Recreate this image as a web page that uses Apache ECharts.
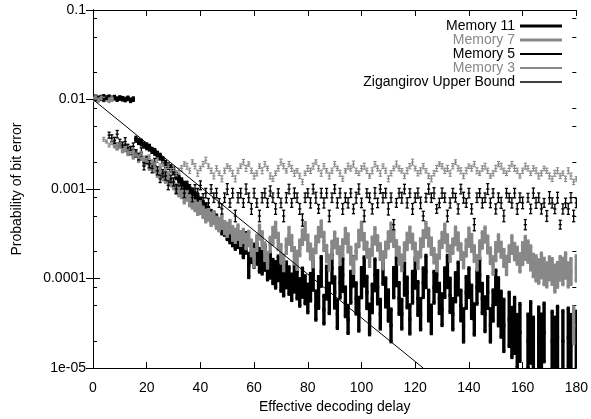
<!DOCTYPE html>
<html>
<head>
<meta charset="utf-8">
<title>Probability of bit error vs effective decoding delay</title>
<script src="https://cdn.jsdelivr.net/npm/echarts@6.0.0/dist/echarts.min.js"></script>
<style>
  html, body { margin: 0; padding: 0; background: #fff; }
  #chart { width: 591px; height: 419px; }
</style>
</head>
<body>
<div id="chart"></div>
<script>
// one value per integer delay, 0..180 (null = no point plotted)
// centre of each error bar (probability of bit error)
const mem11 = [
  0.0104, 0.0106, 0.0103, 0.0105, 0.0107, 0.0104, 0.0106, 0.0103, 0.0105, 0.0101, 0.0104, 0.0102, 0.0100, 0.0103, 0.0098, 0.0101,
  0.0036, 0.0034, 0.0033, 0.0031, 0.0030, 0.0029, 0.0027, 0.0026, 0.0024, 0.0023,
  0.0021, 0.0019, 0.0018, 0.0017, 0.0016, 0.0014, 0.0013, 0.0012, 0.0011, 0.00105,
  0.00095, 0.0009, 0.00082, 0.00078, 0.0007, 0.00065, 0.0006, 0.00055, 0.0005, 0.00048,
  0.00044, 0.0004, 0.00037, 0.00036, 0.00032, 0.0003, 0.00028, 0.00026, 0.00027, 0.00024,
  0.00022, 0.00025, 0.00014, 0.0002, 0.00018, 0.00019, 0.00016, 0.00015, 0.00017, 0.00013,
  0.00014, 0.00012, 0.00011, 0.00013, 0.0001, 0.00009, 0.00011, 0.000095, 0.00008, 0.0001,
  0.000085, 0.00007, 0.00009, 0.000075, 0.00006,
  0.00008, 0.00011, 0.00005, 0.00007, 0.00012, 0.000045, 0.00009, 0.00006, 0.00013, 0.00007,
  0.00004, 0.00009, 0.00011, 0.000055, 0.000035, 0.00008, 0.00012, 0.00006, 0.00004, 0.00009,
  0.00012, 0.00007, 0.000035, 0.00006, 0.00011, 0.00008, 0.00004, 0.00013, 0.00007, 0.00005,
  0.00003, 0.00009, 0.00012, 0.00006, 0.00004, 0.0001, 0.00007, 0.000035, 0.00008, 0.000115,
  0.00006, 0.00004, 0.00009, 0.00012, 0.00005, 0.000035, 0.00008, 0.00011, 0.00006, 0.000045,
  0.00009, 0.00012, 0.000065, 0.00004, 0.00008, 0.0001, 0.00005, 0.00003, 0.00007, 0.00009,
  0.000055, 0.000035, 0.00008, 0.00011, 0.00006, 0.00004, 0.00007, 0.00003, 0.00005, 0.00008,
  0.000055, 0.00004, 0.00003, null, 0.000035, 0.000025, 0.00003, 0.00002, 0.000025, null,
  null, 0.00002, 0.000025, 0.000018, null, 0.000022, 0.00002, 0.000025, null, null,
  0.00002, 0.000018, 0.000022, null, 0.00002, null, 0.000022, 0.000018, null, 0.00002
];
const mem7 = [
  0.0101, 0.0104, 0.0099, 0.0103, 0.0100, 0.0102, 0.0098, 0.0101,
  0.0032, 0.0030, 0.0031, 0.0028, 0.0029, 0.0026, 0.0027, 0.0024, 0.0025, 0.0022,
  0.0023, 0.0020, 0.0021, 0.0018, 0.0019, 0.0017, 0.0015, 0.0016, 0.0014, 0.0013,
  0.0014, 0.0012, 0.0011, 0.0010, 0.00095, 0.0009, 0.0008, 0.00085, 0.00075, 0.0007,
  0.00065, 0.0006, 0.00062, 0.00055, 0.0005, 0.00052, 0.00046, 0.00048, 0.00042, 0.0004,
  0.00043, 0.00037, 0.00035, 0.00038, 0.00032, 0.0003, 0.00033, 0.00028, 0.0003, 0.00026,
  0.00028, 0.00022, 0.00017, 0.00025, 0.00033, 0.00027, 0.0002, 0.00016, 0.00024, 0.0003,
  0.00035, 0.00026, 0.00019, 0.00015, 0.00023, 0.0003, 0.00025, 0.00018, 0.00016, 0.00022,
  0.00029, 0.00034, 0.00025, 0.0002, 0.00017, 0.00024, 0.00031, 0.00036, 0.00026, 0.00019,
  0.00015, 0.00021, 0.00027, 0.00023, 0.00018, 0.00022, 0.0003, 0.00025, 0.00018, 0.00014,
  0.0002, 0.00028, 0.00034, 0.00026, 0.00021, 0.00017, 0.00023, 0.0003, 0.00025, 0.0002,
  0.00016, 0.00021, 0.00027, 0.00033, 0.00028, 0.00022, 0.00018, 0.00015, 0.0002, 0.00026,
  0.00031, 0.00026, 0.0002, 0.00016, 0.00022, 0.00028, 0.00035, 0.00029, 0.00023, 0.00018,
  0.00015, 0.00021, 0.00027, 0.00032, 0.00025, 0.00019, 0.00023, 0.0003, 0.00026, 0.0002,
  0.00016, 0.00022, 0.00029, 0.00025, 0.00019, 0.00015, 0.00021, 0.00027, 0.00031, 0.00024,
  0.00018, 0.00014, 0.0002, 0.00025, 0.00021, 0.00017, 0.00014, 0.00019, 0.00024, 0.0002,
  0.00018, 0.00015, 0.00019, 0.00022, 0.0002, 0.00017, 0.00014, 0.00013, 0.00012, 0.00014,
  0.00012, 0.00011, 0.00013, 0.00012, 0.0001, 0.00011, 0.00013, 0.00012, 0.00014, 0.00011,
  0.00012, 0.00003, 0.00013
];
const mem5 = [
  0.0103, 0.0100, 0.0105, 0.0102, 0.0099, 0.0104,
  0.0040, 0.0037, 0.0035, 0.0041, 0.0033, 0.0031, 0.0034, 0.0029, 0.0027, 0.0030,
  0.0025, 0.0023, 0.0026, 0.0018, 0.0021, 0.0019, 0.0017, 0.0020, 0.0016, 0.0013,
  0.0015, 0.0014, 0.0011, 0.0013, 0.0012, 0.0010, 0.0012, 0.0011, 0.0009, 0.0011,
  0.0010, 0.0008, 0.0010, 0.0009, 0.0011, 0.0008, 0.0009, 0.0007, 0.0010, 0.0008,
  0.0009, 0.0007, 0.0006, 0.0008, 0.0010, 0.0007, 0.0009, 0.0005, 0.0008, 0.0009,
  0.0007, 0.0010, 0.0008, 0.0006, 0.0009, 0.0007, 0.0005, 0.0008, 0.0009, 0.0007,
  0.00095, 0.0008, 0.0006, 0.0009, 0.0007, 0.0005, 0.0008, 0.0010, 0.0007, 0.0009,
  0.0008, 0.0006, 0.00045, 0.0008, 0.0009, 0.0007, 0.0010, 0.0008, 0.0006, 0.0009,
  0.0007, 0.0009, 0.0005, 0.0008, 0.0010, 0.0007, 0.0009, 0.0006, 0.0008, 0.0007,
  0.0009, 0.0006, 0.0008, 0.0010, 0.0007, 0.0005, 0.0009, 0.0008, 0.0006, 0.0009,
  0.0007, 0.0010, 0.0008, 0.0009, 0.0006, 0.0008, 0.0004, 0.0007, 0.0009, 0.0008,
  0.0010, 0.0007, 0.0009, 0.0006, 0.0008, 0.0009, 0.0007, 0.0005, 0.0008, 0.0010,
  0.0008, 0.0009, 0.0006, 0.0007, 0.0009, 0.0008, 0.0005, 0.0007, 0.0009, 0.0008,
  0.0006, 0.0010, 0.0008, 0.0007, 0.0009, 0.0006, 0.0004, 0.0008, 0.0009, 0.0007,
  0.0008, 0.0010, 0.0007, 0.0009, 0.0006, 0.0008, 0.0007, 0.0005, 0.0009, 0.0008,
  0.0007, 0.0009, 0.0006, 0.0008, 0.0007, 0.0004, 0.0008, 0.0006, 0.0009, 0.0007,
  0.0008, 0.0006, 0.0007, 0.0005, 0.0008, 0.0007, 0.0006, 0.0008, 0.0004, 0.0006,
  0.0007, 0.0006, 0.0008, 0.0005, 0.0007
];
const mem3 = [
  0.0102, 0.0104, 0.0101, 0.0103,
  0.0036, 0.0034, 0.0031, 0.0033, 0.0030, 0.0029, 0.0031, 0.0027, 0.0028,
  0.0026, 0.0025, 0.0027, 0.0024, 0.0023, 0.0025, 0.0022, 0.0021, 0.0023, 0.0020,
  0.0019, 0.0021, 0.0018, 0.0019, 0.0017, 0.0018, 0.0016, 0.0017, 0.0015, 0.0016,
  0.0017, 0.0019, 0.0018, 0.0016, 0.0020, 0.0018, 0.0015, 0.0017, 0.0019, 0.0021,
  0.0018, 0.0016, 0.0014, 0.0017, 0.0015, 0.0013, 0.0016, 0.0018, 0.0017, 0.0015,
  0.0013, 0.0016, 0.0018, 0.0020, 0.0017, 0.0019, 0.0016, 0.0014, 0.0015, 0.0018,
  0.0016, 0.0019, 0.0017, 0.0014, 0.0013, 0.0015, 0.0017, 0.0020, 0.0018, 0.0016,
  0.0019, 0.0017, 0.0015, 0.0016, 0.0014, 0.0012, 0.0015, 0.0017, 0.0016, 0.0018,
  0.0020, 0.0017, 0.0015, 0.0018, 0.0016, 0.0014, 0.0016, 0.0019, 0.0017, 0.0015,
  0.0013, 0.0016, 0.0018, 0.0017, 0.0019, 0.0016, 0.0015, 0.0017, 0.0018, 0.0016,
  0.0014, 0.0016, 0.0019, 0.0017, 0.0015, 0.0018, 0.0016, 0.0013, 0.0015, 0.0017,
  0.0019, 0.0017, 0.0016, 0.0014, 0.0016, 0.0018, 0.0020, 0.0017, 0.0015, 0.0016,
  0.0018, 0.0016, 0.0014, 0.0013, 0.0015, 0.0017, 0.0019, 0.0018, 0.0016, 0.0017,
  0.0015, 0.0018, 0.0020, 0.0017, 0.0016, 0.0014, 0.0016, 0.0018, 0.0017, 0.0019,
  0.0016, 0.0015, 0.0017, 0.0018, 0.0016, 0.0014, 0.0015, 0.0017, 0.0019, 0.0018,
  0.0016, 0.0015, 0.0017, 0.0019, 0.0017, 0.0016, 0.0014, 0.0016, 0.0018, 0.0017,
  0.0015, 0.0017, 0.0016, 0.0014, 0.0015, 0.0017, 0.0016, 0.0014, 0.0013, 0.0015,
  0.0016, 0.0014, 0.0015, 0.0013, 0.0016, 0.0014, 0.0012, 0.0013
];

// half-height of each error bar, in percent of the centre (hi = c*(1+s), lo = c/(1+s))
const mem11Err = [
  3, 3, 3, 3, 3, 3, 3, 3, 3, 3, 3, 3, 3, 3, 3, 3,
  5, 5, 6, 5, 6, 6, 5, 6, 7, 6, 6, 7, 6, 7, 8, 7, 7, 8, 8, 9,
  10, 11, 12, 11, 13, 12, 14, 13, 15, 14, 16, 15, 17, 18, 17, 19, 20, 22, 21, 24,
  28, 30, 36, 32, 34, 31, 35, 33, 37, 34, 38, 36, 40, 37, 38, 40, 39, 42, 40, 41, 43, 42, 45, 43, 44,
  42, 48, 45, 50, 46, 44, 52, 47, 45, 49,
  44, 48, 53, 46, 43, 50, 45, 49, 54, 47,
  45, 51, 48, 44, 50, 53, 46, 50, 45, 49,
  52, 47, 44, 50, 46, 53, 48, 45, 50, 47,
  54, 49, 46, 51, 48, 44, 50, 53, 47, 50,
  46, 51, 55, 49, 45, 52, 48, 53, 50, 46,
  53, 49, 54, 51, 47, 56, 50, 53, 49, 55,
  85, 80, 95, 88, 100, 90, 105, 98, 110, 95,
  115, 100, 120, 105, 110, 118, 100, 112, 120, 108,
  115, 105, 122, 110, 118, 125, 112, 120, 108, 115
];
const mem7Err = [
  3, 3, 3, 3, 3, 3, 3, 3,
  6, 7, 6, 7, 8, 7, 6, 8, 7, 8, 7, 8, 9, 8, 7, 9, 8, 9, 10, 9, 8, 10, 9,
  12, 13, 12, 14, 13, 15, 14, 13, 15, 16, 14, 16, 15, 17, 16, 15, 17, 18, 16, 18, 17, 19, 18, 20, 19, 18, 20,
  20, 22, 24, 21, 19, 23, 25, 22, 20, 24,
  21, 23, 26, 22, 20, 24, 21, 23, 26, 22,
  20, 24, 22, 21, 25, 23, 20, 22, 26, 23,
  21, 24, 22, 20, 25, 23, 21, 26, 24, 22,
  20, 23, 25, 22, 21, 24, 26, 23, 20, 22,
  24, 21, 23, 26, 22, 20, 24, 22, 25, 23,
  21, 20, 24, 23, 26, 22, 21, 25, 23, 20,
  22, 24, 21, 26, 23, 22, 20, 25, 24, 22,
  21, 23, 26, 24, 22, 20, 25, 23, 21, 24,
  22, 25, 26, 23, 21, 24, 26, 22, 25, 23,
  24, 26,
  32, 34, 31, 36, 33, 38, 35, 37, 40, 36, 34, 39, 41, 37, 35, 40, 38, 36, 39, 60, 38
];
const mem5Err = [
  3, 3, 3, 3, 3, 3,
  8, 9, 8, 10, 9, 8, 10, 9, 11, 9, 10, 9, 11, 10, 9, 10, 12, 10, 11, 10,
  10, 11, 12, 10, 11, 12, 11, 10, 12, 11, 12, 11, 12, 13, 12, 11, 13, 12, 12, 13,
  13, 12, 14, 13, 15, 12, 13, 16, 14, 13,
  12, 14, 13, 15, 13, 12, 16, 14, 13, 12,
  14, 13, 15, 12, 13, 16, 14, 13, 12, 14,
  13, 15, 17, 13, 12, 14, 13, 15, 12, 13,
  14, 13, 16, 13, 12, 14, 13, 15, 13, 14,
  12, 13, 15, 14, 13, 16, 12, 13, 14, 15,
  13, 12, 14, 13, 17, 13, 14, 12, 13, 15,
  13, 14, 12, 15, 13, 14, 16, 13, 12, 14,
  13, 15, 12, 13, 14, 13, 16, 14, 13, 12,
  14, 13, 15, 12, 13, 14, 17, 13, 12, 14,
  13, 15, 13, 12, 14, 13, 15, 16, 13, 12,
  14, 13, 15, 13, 16, 14, 12, 13, 14, 15,
  13, 14, 12, 15, 17, 14, 13, 15, 12, 14,
  13, 15, 14, 16, 13
];
const mem3Err = [
  3, 3, 3, 3,
  5, 4, 5, 5, 4, 5, 6, 5, 4, 5, 5, 6, 5, 4, 5, 6, 5, 5, 6, 5, 6, 6, 6, 5, 6, 6, 6, 7, 7,
  7, 6, 8, 7, 6, 7, 8, 6, 7, 8,
  6, 7, 8, 7, 6, 8, 7, 6, 7, 8,
  8, 7, 6, 7, 8, 6, 7, 8, 7, 6,
  8, 7, 6, 8, 7, 6, 7, 8, 7, 6,
  7, 8, 8, 6, 7, 7, 6, 8, 7, 8,
  6, 7, 8, 7, 6, 8, 7, 7, 6, 8,
  7, 6, 8, 7, 8, 7, 6, 7, 8, 7,
  6, 8, 7, 7, 8, 6, 7, 8, 7, 6,
  8, 7, 6, 7, 8, 7, 8, 6, 7, 8,
  7, 6, 7, 8, 7, 8, 6, 7, 7, 8,
  8, 7, 6, 7, 8, 7, 8, 6, 7, 7,
  8, 6, 7, 8, 7, 6, 7, 8, 7, 8,
  7, 6, 8, 7, 8, 7, 6, 7, 8, 7,
  6, 7, 8, 8, 7, 6, 7, 8, 7, 8,
  8, 7, 6, 7, 8, 8, 7, 6
];

// Zigangirov upper bound: straight on the log axis
const boundX = [0, 123];
const boundY = [0.01, 0.00001];

const yMinorTicks = [2e-5, 5e-5, 8e-5, 2e-4, 5e-4, 8e-4, 2e-3, 5e-3, 8e-3, 2e-2, 5e-2, 8e-2];

const FONT = 'Liberation Sans, Arial, Helvetica, sans-serif';
const GRAY = '#888888';

function toPoints(vals, errs) {
  const pts = [];
  vals.forEach((v, i) => { if (v != null) pts.push([i, v, errs[i]]); });
  return pts;
}

function errorBars(lw, color) {
  return function (params, api) {
    const x = api.value(0), c = api.value(1), s = api.value(2) / 100;
    const top = api.coord([x, c * (1 + s)]);
    const bot = api.coord([x, c / (1 + s)]);
    const mid = api.coord([x, c]);
    const st = { stroke: color, lineWidth: lw };
    const t = 1.6;
    return {
      type: 'group',
      children: [
        { type: 'line', shape: { x1: top[0], y1: top[1], x2: bot[0], y2: bot[1] }, style: st },
        { type: 'line', shape: { x1: top[0] - t, y1: top[1], x2: top[0] + t, y2: top[1] }, style: st },
        { type: 'line', shape: { x1: bot[0] - t, y1: bot[1], x2: bot[0] + t, y2: bot[1] }, style: st },
        { type: 'line', shape: { x1: mid[0] - t, y1: mid[1], x2: mid[0] + t, y2: mid[1] }, style: st }
      ]
    };
  };
}

// bound segment from each point to the next one
function boundSegment(params, api) {
  const i = params.dataIndex;
  if (i >= boundX.length - 1) return null;
  const a = api.coord([boundX[i], boundY[i]]);
  const b = api.coord([boundX[i + 1], boundY[i + 1]]);
  return {
    type: 'line',
    shape: { x1: a[0], y1: a[1], x2: b[0], y2: b[1] },
    style: { stroke: '#000', lineWidth: 1 }
  };
}

function logLabel(v) {
  const e = Math.round(Math.log10(v));
  if (e >= -4) return (Math.pow(10, e)).toFixed(-e);
  return '1e-0' + (-e);
}

const chart = echarts.init(document.getElementById('chart'), null, { renderer: 'canvas' });

const axisLine = { show: true, lineStyle: { color: '#000', width: 1 } };

const option = {
  animation: false,
  backgroundColor: '#fff',
  textStyle: { fontFamily: FONT },
  grid: { left: 93, right: 10.5, top: 10, bottom: 48 },
  legend: {
    orient: 'vertical',
    align: 'right',
    right: 29,
    top: 19,
    padding: 0,
    itemWidth: 42,
    itemHeight: 15,
    itemGap: 0,
    selectedMode: false,
    itemStyle: { borderWidth: 0 },
    textStyle: { fontSize: 14, color: '#000', fontFamily: FONT },
    data: [
      { name: 'Memory 11', icon: 'path://M0,0L42,0L42,3L0,3Z' },
      { name: 'Memory 7', icon: 'path://M0,0L42,0L42,3L0,3Z', textStyle: { color: GRAY } },
      { name: 'Memory 5', icon: 'path://M0,0L42,0L42,2L0,2Z' },
      { name: 'Memory 3', icon: 'path://M0,0L42,0L42,2L0,2Z', textStyle: { color: GRAY } },
      { name: 'Zigangirov Upper Bound', icon: 'path://M0,0L42,0L42,1.5L0,1.5Z' }
    ]
  },
  xAxis: [
    {
      type: 'value', min: 0, max: 180, interval: 20, position: 'bottom',
      name: 'Effective decoding delay', nameLocation: 'middle', nameGap: 31,
      nameTextStyle: { fontSize: 14, color: '#000', fontFamily: FONT },
      axisLine: axisLine,
      axisTick: { show: true, inside: true, length: 6, lineStyle: { color: '#000' } },
      axisLabel: { fontSize: 14, color: '#000', margin: 13, fontFamily: FONT },
      splitLine: { show: false }
    },
    {
      type: 'value', min: 0, max: 180, interval: 20, position: 'top',
      axisLine: axisLine,
      axisTick: { show: true, inside: true, length: 6, lineStyle: { color: '#000' } },
      axisLabel: { show: false },
      splitLine: { show: false }
    }
  ],
  yAxis: [
    {
      type: 'log', logBase: 10, min: 0.00001, max: 0.1, position: 'left',
      name: 'Probability of bit error', nameLocation: 'middle', nameGap: 69,
      nameTextStyle: { fontSize: 14, color: '#000', fontFamily: FONT },
      axisLine: axisLine,
      axisTick: { show: true, inside: true, length: 7, lineStyle: { color: '#000' } },
      axisLabel: { fontSize: 14, color: '#000', margin: 7, formatter: logLabel, fontFamily: FONT },
      splitLine: { show: false }
    },
    {
      type: 'log', logBase: 10, min: 0.00001, max: 0.1, position: 'right',
      axisLine: axisLine,
      axisTick: { show: true, inside: true, length: 7, lineStyle: { color: '#000' } },
      axisLabel: { show: false },
      splitLine: { show: false }
    },
    {
      type: 'log', logBase: 10, min: 0.00001, max: 0.1, position: 'left',
      axisLine: { show: false },
      axisTick: { show: true, inside: true, length: 4, customValues: yMinorTicks, lineStyle: { color: '#000' } },
      axisLabel: { show: false },
      splitLine: { show: false }
    },
    {
      type: 'log', logBase: 10, min: 0.00001, max: 0.1, position: 'right',
      axisLine: { show: false },
      axisTick: { show: true, inside: true, length: 4, customValues: yMinorTicks, lineStyle: { color: '#000' } },
      axisLabel: { show: false },
      splitLine: { show: false }
    }
  ],
  series: [
    {
      name: 'Memory 11', type: 'custom', clip: true,
      itemStyle: { color: '#000' },
      renderItem: errorBars(3.4, '#000'),
      encode: { x: 0, y: 1 },
      data: toPoints(mem11, mem11Err)
    },
    {
      name: 'Memory 7', type: 'custom', clip: true,
      itemStyle: { color: GRAY },
      renderItem: errorBars(3.4, GRAY),
      encode: { x: 0, y: 1 },
      data: toPoints(mem7, mem7Err)
    },
    {
      name: 'Memory 5', type: 'custom', clip: true,
      itemStyle: { color: '#000' },
      renderItem: errorBars(1.3, '#000'),
      encode: { x: 0, y: 1 },
      data: toPoints(mem5, mem5Err)
    },
    {
      name: 'Memory 3', type: 'custom', clip: true,
      itemStyle: { color: GRAY },
      renderItem: errorBars(1.1, GRAY),
      encode: { x: 0, y: 1 },
      data: toPoints(mem3, mem3Err)
    },
    {
      name: 'Zigangirov Upper Bound', type: 'custom', clip: true,
      itemStyle: { color: '#000' },
      renderItem: boundSegment,
      encode: { x: 0, y: 1 },
      data: boundX.map((x, i) => [x, boundY[i]])
    }
  ]
};

chart.setOption(option);
</script>
</body>
</html>
